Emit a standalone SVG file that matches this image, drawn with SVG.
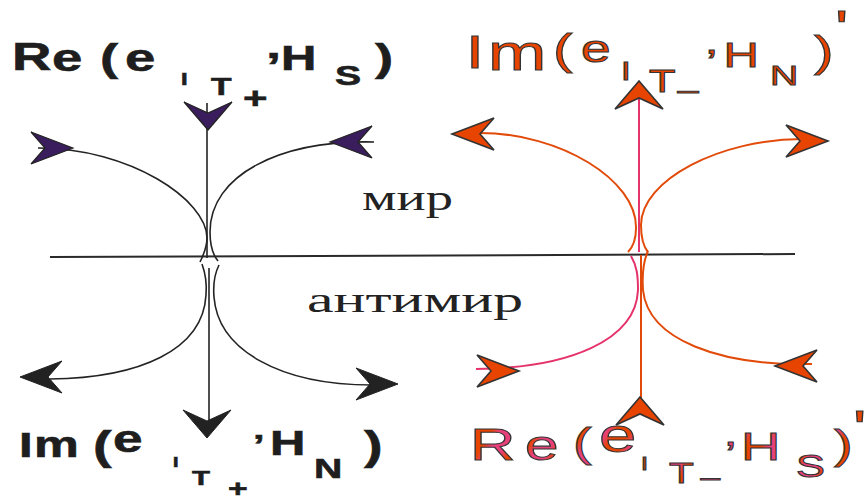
<svg xmlns="http://www.w3.org/2000/svg" xmlns:xlink="http://www.w3.org/1999/xlink" width="865" height="503" viewBox="0 0 865 503">
<style>
.blk{fill:none;stroke:#232323;stroke-width:1.6}
.org{fill:none;stroke:#e24a0a;stroke-width:2}
.pnk{fill:none;stroke:#e5336b;stroke-width:2}
.axis{fill:none;stroke:#2a2a2a;stroke-width:2}
.ah-b{fill:#222;stroke:#222;stroke-width:1}
.ah-p{fill:#3a1d5c;stroke:#222;stroke-width:1.2}
.ah-o{fill:#e64400;stroke:#333;stroke-width:1.6;stroke-linejoin:miter}
.lblk{font-family:"Liberation Sans",Arial,sans-serif;font-weight:bold;fill:#1e1e1e;stroke:#1e1e1e;stroke-width:0.6}
.lorg{font-family:"Liberation Sans",Arial,sans-serif;fill:#e64400;stroke:#333;stroke-width:1}
.lmix{font-family:"Liberation Sans",Arial,sans-serif;fill:url(#mix);stroke:#333;stroke-width:1}
.ru{font-family:"Liberation Serif","Times New Roman",serif;font-size:36px;fill:#222}
</style>
<defs>
<path id="side" d="M0,0 L-42,-16 L-28,0 L-42,16 Z"/>
<path id="vert" d="M0,0 L-28,-24 L-17,0 L-28,24 Z"/>
<linearGradient id="mix" gradientUnits="userSpaceOnUse" x1="0" y1="0" x2="14" y2="6" spreadMethod="reflect">
<stop offset="0.3" stop-color="#e64400"/>
<stop offset="0.7" stop-color="#e8407a"/>
</linearGradient>
</defs>
<rect width="865" height="503" fill="#fff"/>

<g id="connectors">
<path class="axis" d="M50,257 L795,254"/>
<path class="blk" d="M207,103 L207,258"/>
<path class="blk" d="M209,268 L209,425"/>
<path class="blk" d="M38,148 C130,148 207,200 207,238 C207,248 203,256 200,262"/>
<path class="blk" d="M374,142 C280,140 210,175 210,232 C210,246 213,255 218,261"/>
<path class="blk" d="M202,264 C206,275 207,283 206,295 C203,350 140,378 50,379"/>
<path class="blk" d="M219,265 C214,275 213,285 214,297 C218,350 280,385 372,385"/>
<use href="#side" class="ah-p" transform="translate(73,148)"/>
<use href="#side" class="ah-p" transform="translate(330,142) rotate(180)"/>
<use href="#vert" class="ah-p" transform="translate(208,130) rotate(90)"/>
<use href="#side" class="ah-b" transform="translate(20,377) rotate(180)"/>
<use href="#side" class="ah-b" transform="translate(398,384)"/>
<use href="#vert" class="ah-b" transform="translate(207,438) rotate(90)"/>
<path class="pnk" d="M639,99 L639,252"/>
<path class="org" d="M641,255 L641,400"/>
<path class="org" d="M480,133 C560,133 637,180 636,228 C636,240 632,248 628,252"/>
<path class="org" d="M803,139 C720,139 641,180 641,225 C641,238 643,246 648,252"/>
<path class="pnk" d="M631,256 C637,266 638,276 638,290 C636,340 570,368 476,369"/>
<path class="org" d="M648,251 C643,262 642,275 643,290 C648,340 720,366 812,364"/>
<use href="#vert" class="ah-o" transform="translate(639,81) rotate(-90)"/>
<use href="#vert" class="ah-o" transform="translate(640,397) rotate(-90)"/>
<use href="#side" class="ah-o" transform="translate(452,134) rotate(180)"/>
<use href="#side" class="ah-o" transform="translate(828,141)"/>
<use href="#side" class="ah-o" transform="translate(519,371)"/>
<use href="#side" class="ah-o" transform="translate(775,366) rotate(180)"/>
</g>

<g id="label-re-top" transform="scale(1.4,1)">
<text class="lblk"><tspan x="8.57" y="70" font-size="39">R</tspan><tspan x="37.14" y="71" font-size="39">e</tspan><tspan x="71.43" y="71" font-size="39">(</tspan><tspan x="89.29" y="71" font-size="39">e</tspan><tspan x="129.29" y="85" font-size="17">I</tspan><tspan x="150.71" y="95" font-size="24">T</tspan><tspan x="173.57" y="108" font-size="30">+</tspan><tspan x="190" y="80" font-size="39">’</tspan><tspan x="200.71" y="70" font-size="35">H</tspan><tspan x="239.29" y="85" font-size="28">S</tspan><tspan x="267.86" y="71" font-size="39">)</tspan></text>
</g>

<g id="label-im-top" transform="scale(1.4,1)">
<text class="lorg"><tspan x="332.86" y="68" font-size="46">I</tspan><tspan x="348.57" y="70" font-size="50">m</tspan><tspan x="395" y="64" font-size="42">(</tspan><tspan x="415" y="62" font-size="38">e</tspan><tspan x="443.57" y="80" font-size="25">I</tspan><tspan x="463.57" y="92" font-size="31">T</tspan><tspan x="484.29" y="88" font-size="26">_</tspan><tspan x="504.29" y="76" font-size="36">’</tspan><tspan x="516.79" y="67" font-size="35">H</tspan><tspan x="550" y="85" font-size="28">N</tspan><tspan x="581.43" y="66" font-size="42">)</tspan><tspan x="596.43" y="46" font-size="50">'</tspan></text>
</g>

<g id="label-im-bottom" transform="scale(1.4,1)">
<text class="lblk"><tspan x="13.57" y="457" font-size="35">I</tspan><tspan x="24.29" y="457" font-size="36">m</tspan><tspan x="66.43" y="460" font-size="40">(</tspan><tspan x="80.71" y="452" font-size="38">e</tspan><tspan x="123.57" y="467" font-size="14">I</tspan><tspan x="137.14" y="485" font-size="21">T</tspan><tspan x="162.86" y="497" font-size="24">+</tspan><tspan x="180.71" y="455" font-size="30">’</tspan><tspan x="192.86" y="455" font-size="35">H</tspan><tspan x="224.29" y="478" font-size="28">N</tspan><tspan x="260" y="460" font-size="40">)</tspan></text>
</g>

<g id="label-re-bottom" transform="scale(1.4,1)">
<text class="lmix"><tspan x="335.71" y="460" font-size="45">R</tspan><tspan x="375" y="460" font-size="43">e</tspan><tspan x="409.29" y="457" font-size="40">(</tspan><tspan x="427.86" y="452" font-size="48">e</tspan><tspan x="457.86" y="470" font-size="18">I</tspan><tspan x="477.86" y="483" font-size="29">T</tspan><tspan x="500.71" y="475" font-size="24">_</tspan><tspan x="517.86" y="468" font-size="36">’</tspan><tspan x="529.29" y="460" font-size="39">H</tspan><tspan x="568.57" y="477" font-size="31">S</tspan><tspan x="595.71" y="459" font-size="40">)</tspan></text>
<text class="lorg" x="609.29" y="446" font-size="50">'</text>
</g>

<g id="text-mir">
<text class="ru" x="362" y="210" textLength="91" lengthAdjust="spacingAndGlyphs">мир</text>
</g>
<g id="text-antimir">
<text class="ru" x="307" y="312" textLength="216" lengthAdjust="spacingAndGlyphs">антимир</text>
</g>
</svg>
